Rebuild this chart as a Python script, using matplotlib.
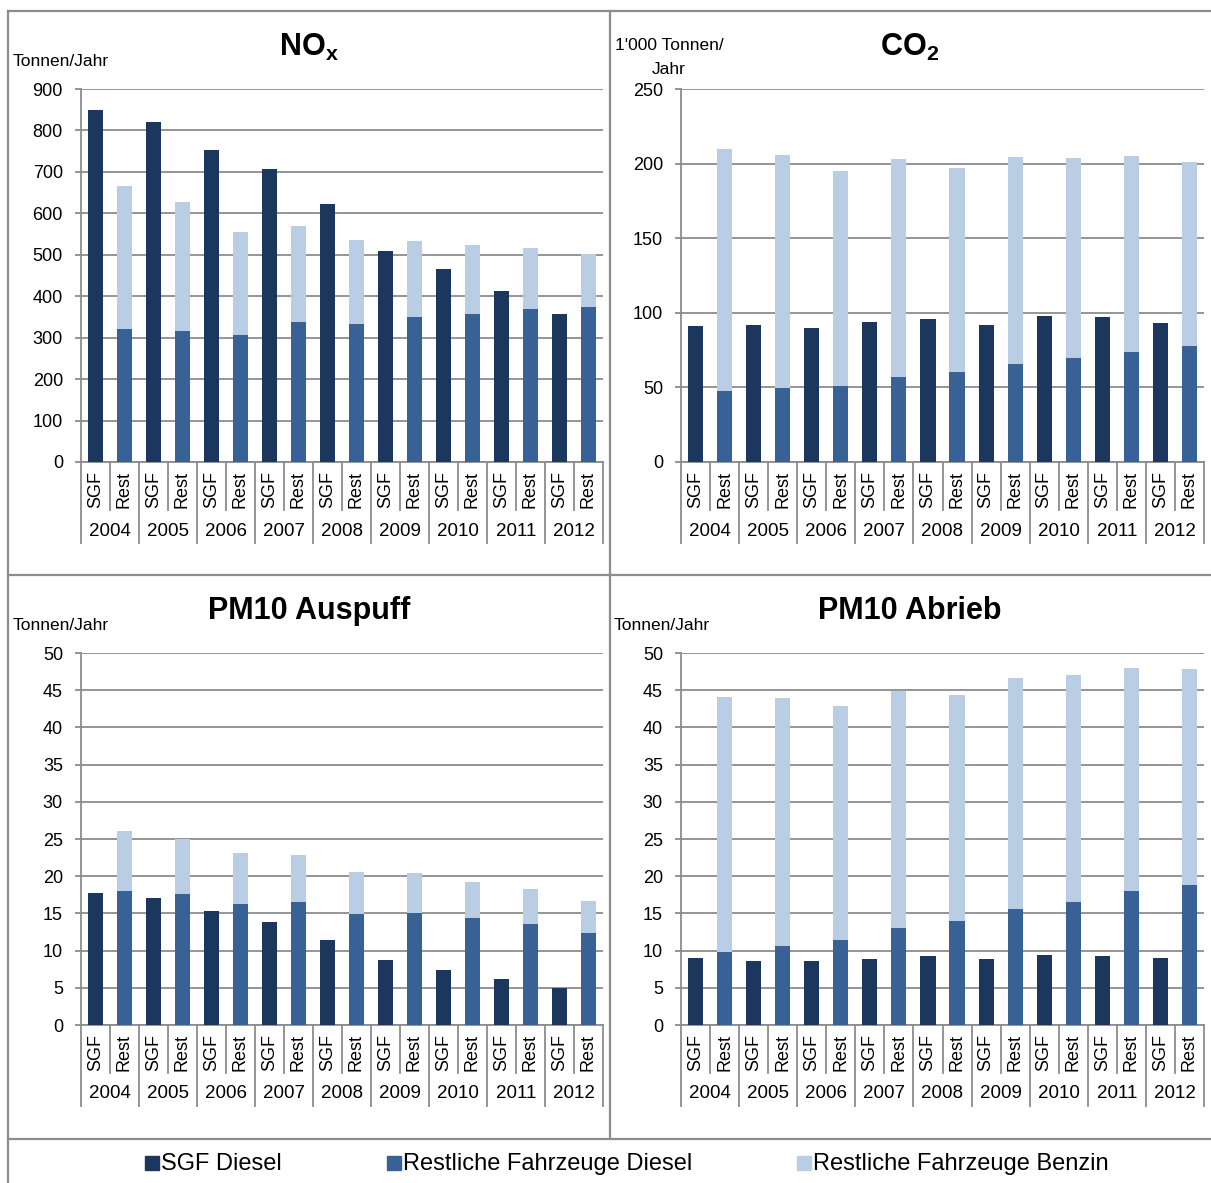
import matplotlib
matplotlib.use("Agg")
import matplotlib.pyplot as plt
from matplotlib.lines import Line2D
from matplotlib.patches import Rectangle
import numpy as np

plt.rcParams['font.family'] = ['Liberation Sans', 'DejaVu Sans']
plt.rcParams['mathtext.fontset'] = 'custom'
plt.rcParams['mathtext.rm'] = 'Liberation Sans'
plt.rcParams['mathtext.bf'] = 'Liberation Sans:bold'

# data
years = ['2004', '2005', '2006', '2007', '2008', '2009', '2010', '2011', '2012']
groups = ['SGF', 'Rest']
legend_labels = ['SGF Diesel', 'Restliche Fahrzeuge Diesel', 'Restliche Fahrzeuge Benzin']

nox_sgf = [850, 820, 752, 708, 622, 509, 465, 412, 358]
nox_rest_diesel = [320, 316, 306, 338, 333, 351, 358, 369, 373]
nox_rest_benzin = [346, 311, 250, 232, 202, 182, 166, 147, 129]

co2_sgf = [91, 92, 90, 94, 96, 92, 98, 97, 93]
co2_rest_diesel = [47.5, 49.5, 51, 57, 60, 66, 70, 74, 77.5]
co2_rest_benzin = [162.5, 156.5, 144, 146, 137, 138.5, 134, 131, 123.5]

pm_ausp_sgf = [17.7, 17.1, 15.3, 13.8, 11.4, 8.7, 7.4, 6.2, 5.0]
pm_ausp_rest_diesel = [18.0, 17.6, 16.3, 16.5, 14.9, 15.0, 14.4, 13.6, 12.4]
pm_ausp_rest_benzin = [8.1, 7.4, 6.8, 6.3, 5.7, 5.4, 4.8, 4.7, 4.3]

pm_abr_sgf = [9.0, 8.6, 8.6, 8.9, 9.3, 8.9, 9.4, 9.3, 9.0]
pm_abr_rest_diesel = [9.8, 10.6, 11.4, 13.0, 14.0, 15.6, 16.5, 18.0, 18.8]
pm_abr_rest_benzin = [34.3, 33.3, 31.5, 31.9, 30.3, 31.0, 30.6, 30.0, 29.0]

colors = ['#1b375e', '#386195', '#b9cde4']
grid_col = '#8c8c8c'

W, H = 1211, 1183
fig = plt.figure(figsize=(W / 100, H / 100), dpi=100)


def fx(px):
    return px / W


def fy(py):
    return 1 - py / H


def panel(left, top, right, bottom, ymax, step, sgf, rest_d, rest_b):
    ax = fig.add_axes([fx(left), fy(bottom), fx(right - left), fy(top) - fy(bottom)])
    n = len(years)
    x = np.arange(n) * 2
    ax.bar(x, sgf, width=0.52, color=colors[0], zorder=3)
    ax.bar(x + 1, rest_d, width=0.52, color=colors[1], zorder=3)
    ax.bar(x + 1, rest_b, width=0.52, bottom=rest_d, color=colors[2], zorder=3)
    ax.set_xlim(-0.5, 2 * n - 0.5)
    ax.set_ylim(0, ymax)
    ax.set_yticks(np.arange(0, ymax + step / 2, step))
    ax.yaxis.grid(True, color=grid_col, lw=1.3)
    ax.set_axisbelow(True)
    for s in ['top', 'right']:
        ax.spines[s].set_visible(False)
    for s in ['left', 'bottom']:
        ax.spines[s].set_color(grid_col)
        ax.spines[s].set_linewidth(1.3)
    ax.set_xticks([])
    ax.tick_params(axis='y', direction='out', length=4, color=grid_col, width=1.3,
                   labelsize=13, pad=9)
    tr = ax.get_xaxis_transform()
    for i, yr in enumerate(years):
        for j, g in enumerate(groups):
            ax.text(2 * i + j, -0.075, g, transform=tr, rotation=90,
                    ha='center', va='center', fontsize=13, clip_on=False)
        ax.text(2 * i + 0.5, -0.185, yr, transform=tr, ha='center', va='center',
                fontsize=13.5)
        ax.plot([2 * i + 0.5, 2 * i + 0.5], [0, -0.13], transform=tr,
                color=grid_col, lw=1.3, clip_on=False)
    for k in range(n + 1):
        ax.plot([2 * k - 0.5, 2 * k - 0.5], [0, -0.218], transform=tr,
                color=grid_col, lw=1.3, clip_on=False)
    return ax


panel(81, 89, 603, 462, 900, 100, nox_sgf, nox_rest_diesel, nox_rest_benzin)
panel(681, 89, 1204, 462, 250, 50, co2_sgf, co2_rest_diesel, co2_rest_benzin)
panel(81, 653, 603, 1025, 50, 5, pm_ausp_sgf, pm_ausp_rest_diesel, pm_ausp_rest_benzin)
panel(681, 653, 1204, 1025, 50, 5, pm_abr_sgf, pm_abr_rest_diesel, pm_abr_rest_benzin)

# titles
fig.text(fx(309), fy(56), r'$\mathbf{NO_x}$', fontsize=22, ha='center', va='baseline')
fig.text(fx(910), fy(56), r'$\mathbf{CO_2}$', fontsize=22, ha='center', va='baseline')
fig.text(fx(309), fy(619), 'PM10 Auspuff', fontsize=22, fontweight='bold',
         ha='center', va='baseline')
fig.text(fx(910), fy(619), 'PM10 Abrieb', fontsize=22, fontweight='bold',
         ha='center', va='baseline')

# unit labels
fig.text(fx(13), fy(61), 'Tonnen/Jahr', fontsize=12.5, va='center')
fig.text(fx(669), fy(45), "1'000 Tonnen/", fontsize=12.5, ha='center', va='center')
fig.text(fx(669), fy(69), 'Jahr', fontsize=12.5, ha='center', va='center')
fig.text(fx(13), fy(625), 'Tonnen/Jahr', fontsize=12.5, va='center')
fig.text(fx(614), fy(625), 'Tonnen/Jahr', fontsize=12.5, va='center')

# frame lines
frame = [((8, 1211), (11, 11)), ((8, 8), (11, 1183)), ((610, 610), (11, 1138)),
         ((8, 1211), (575, 575)), ((8, 1211), (1139, 1139))]
for (xs, ys) in frame:
    fig.add_artist(Line2D([fx(xs[0]), fx(xs[1])], [fy(ys[0]), fy(ys[1])],
                          transform=fig.transFigure, color=grid_col, lw=1.6))

# legend
leg_x = [145, 387, 797]
for xpos, lab, col in zip(leg_x, legend_labels, colors):
    fig.add_artist(Rectangle((fx(xpos), fy(1170)), fx(14), fy(1156) - fy(1170),
                             transform=fig.transFigure, color=col))
    fig.text(fx(xpos + 16), fy(1164), lab, fontsize=17, va='center')

fig.savefig('out.png', dpi=100)
